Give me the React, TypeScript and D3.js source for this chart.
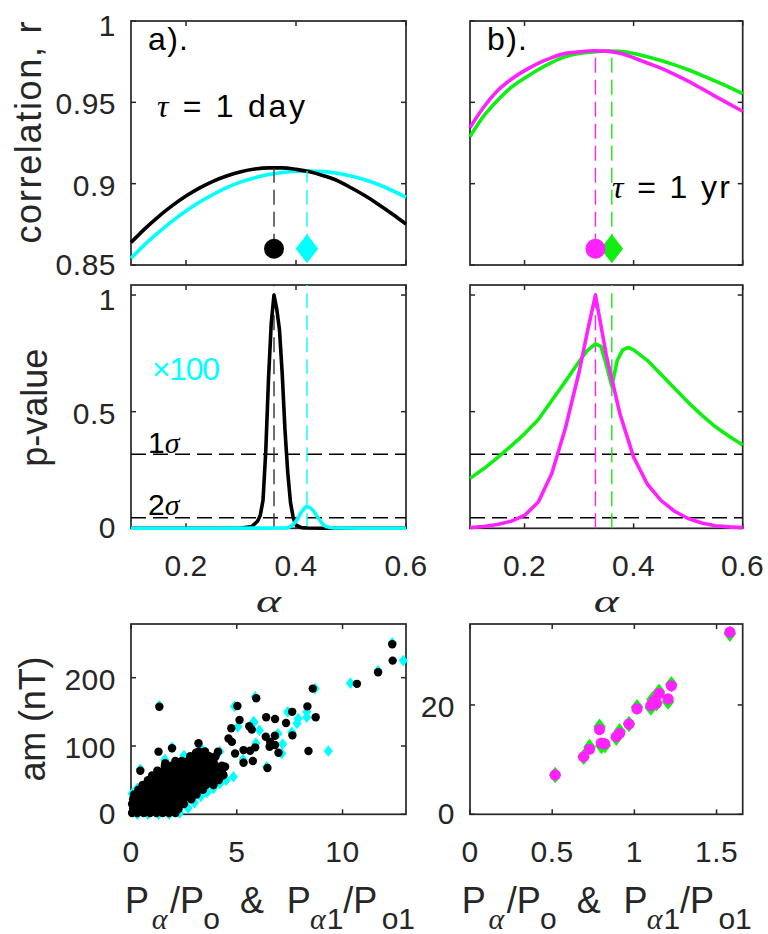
import { useEffect, useRef } from 'react'
import * as d3 from 'd3'

// ---- correlation vs alpha (panels a/b top)
const alphaR = [0.1, 0.125, 0.15, 0.175, 0.2, 0.225, 0.25, 0.275, 0.3, 0.325, 0.35, 0.375, 0.4, 0.425, 0.45, 0.475, 0.5, 0.525, 0.55, 0.575, 0.6]
const rDayBlack = [0.8638, 0.8722, 0.8798, 0.8865, 0.8924, 0.8974, 0.9016, 0.9049, 0.9074, 0.909, 0.9097, 0.9097, 0.9088, 0.9073, 0.9049, 0.9019, 0.8975, 0.8927, 0.8872, 0.8814, 0.8752]
const rDayCyan = [0.8541, 0.8625, 0.87, 0.877, 0.8832, 0.8887, 0.8935, 0.8977, 0.9011, 0.9037, 0.9056, 0.9069, 0.9076, 0.9078, 0.9074, 0.9064, 0.9047, 0.9024, 0.8995, 0.8958, 0.8916]
const rYrMagenta = [0.9345, 0.947, 0.957, 0.964, 0.9695, 0.974, 0.9775, 0.9801, 0.981, 0.9817, 0.9815, 0.9801, 0.9774, 0.9742, 0.971, 0.9672, 0.963, 0.9584, 0.9537, 0.9491, 0.9445]
const rYrGreen = [0.9289, 0.9415, 0.951, 0.959, 0.9648, 0.97, 0.9745, 0.9781, 0.98, 0.981, 0.9816, 0.9814, 0.98, 0.978, 0.9757, 0.973, 0.97, 0.9666, 0.963, 0.9594, 0.9554]
const bestAlphaDay = [0.36, 0.42] // black, cyan
const bestAlphaYr = [0.33, 0.36] // magenta, green
const markerLevel = 0.86

// ---- p-values vs alpha (middle)
const pAlphaBlack = [0.1, 0.3, 0.32, 0.33, 0.335, 0.34, 0.345, 0.35, 0.355, 0.36, 0.365, 0.37, 0.375, 0.38, 0.385, 0.39, 0.395, 0.4, 0.41, 0.42, 0.45, 0.6]
const pBlack = [0, 0.001, 0.008, 0.03, 0.055, 0.12, 0.33, 0.64, 0.88, 1.0, 0.94, 0.85, 0.66, 0.42, 0.24, 0.11, 0.045, 0.014, 0.003, 0.001, 0, 0]
const pAlphaCyan = [0.1, 0.38, 0.39, 0.4, 0.41, 0.42, 0.43, 0.44, 0.45, 0.46, 0.47, 0.6]
const pCyan = [0, 0.001, 0.008, 0.03, 0.07, 0.093, 0.08, 0.045, 0.015, 0.004, 0.001, 0]
const pAlphaMagenta = [0.1, 0.125, 0.15, 0.175, 0.2, 0.225, 0.25, 0.275, 0.3, 0.315, 0.33, 0.35, 0.375, 0.4, 0.425, 0.45, 0.475, 0.5, 0.525, 0.55, 0.575, 0.6]
const pMagenta = [0.003, 0.008, 0.016, 0.03, 0.055, 0.112, 0.235, 0.43, 0.67, 0.84, 1.0, 0.74, 0.49, 0.305, 0.19, 0.12, 0.073, 0.042, 0.023, 0.011, 0.006, 0.003]
const pAlphaGreen = [0.1, 0.125, 0.15, 0.175, 0.2, 0.225, 0.25, 0.275, 0.3, 0.315, 0.33, 0.34, 0.35, 0.36, 0.37, 0.38, 0.39, 0.4, 0.425, 0.45, 0.475, 0.5, 0.525, 0.55, 0.575, 0.6]
const pGreen = [0.214, 0.255, 0.302, 0.352, 0.405, 0.465, 0.548, 0.63, 0.715, 0.762, 0.79, 0.78, 0.7, 0.61, 0.72, 0.765, 0.775, 0.765, 0.72, 0.66, 0.6, 0.54, 0.485, 0.435, 0.395, 0.357]
const sigmaLevels = [0.3173, 0.0455]
const sigmaNames = ['1', '2']

// ---- am vs power ratio (bottom), [ratio, am nT]
const dayOutliers = [
  [12.35, 249], [12.37, 225], [11.68, 208], [10.68, 191], [8.59, 184], [5.92, 170], [8.34, 158], [8.73, 142],
  [7.62, 150], [6.39, 142], [6.81, 139.5], [7.33, 133.7], [5.71, 124], [7.63, 115.6], [6.37, 113.6], [6.8, 115],
  [6.58, 106], [6.81, 101.5], [6.55, 99], [5.87, 98], [5.63, 93], [6.97, 90], [8.39, 92.7], [5.76, 78], [6.45, 67.8],
  [1.34, 157.5], [5.03, 158.5], [5.13, 138], [4.74, 126], [5.59, 129], [4.61, 111], [4.77, 106], [1.94, 96.6],
  [1.3, 91.7], [3.19, 104], [4.11, 91.7], [5.32, 94], [5.32, 75.5], [1.62, 74.7], [0.44, 63.8], [3.07, 90],
  [3.43, 84], [4.37, 57.5], [4.45, 69.7], [4.92, 89]
]
const dayCluster = [
  [0.05, 2], [0.3, 2], [0.6, 2], [0.9, 2], [1.2, 2], [1.5, 2], [1.8, 2], [2.1, 2],
  [0.1, 8], [0.4, 8], [0.7, 8], [1.0, 8], [1.3, 8], [1.6, 8], [1.9, 8], [2.25, 8],
  [0.05, 15], [0.35, 15], [0.65, 15], [0.95, 15], [1.25, 15], [1.55, 15], [1.85, 15], [2.15, 15], [2.5, 15],
  [0.1, 22], [0.4, 22], [0.7, 22], [1.0, 22], [1.3, 22], [1.6, 22], [1.9, 22], [2.2, 22], [2.5, 22], [2.85, 22],
  [0.15, 29], [0.45, 29], [0.75, 29], [1.05, 29], [1.35, 29], [1.65, 29], [1.95, 29], [2.25, 29], [2.55, 29], [2.85, 29], [3.1, 29],
  [0.35, 36], [0.65, 36], [0.95, 36], [1.25, 36], [1.55, 36], [1.85, 36], [2.15, 36], [2.45, 36], [2.75, 36], [3.05, 36], [3.4, 36],
  [0.55, 43], [0.85, 43], [1.15, 43], [1.45, 43], [1.75, 43], [2.05, 43], [2.35, 43], [2.65, 43], [2.95, 43], [3.25, 43], [3.55, 43], [3.9, 43],
  [0.8, 50], [1.1, 50], [1.4, 50], [1.7, 50], [2.0, 50], [2.3, 50], [2.6, 50], [2.9, 50], [3.2, 50], [3.5, 50], [3.8, 50], [4.15, 50],
  [1.0, 57], [1.3, 57], [1.6, 57], [1.9, 57], [2.2, 57], [2.5, 57], [2.8, 57], [3.1, 57], [3.4, 57], [3.7, 57], [4.0, 57], [4.35, 57],
  [1.25, 64], [1.55, 64], [1.85, 64], [2.15, 64], [2.45, 64], [2.75, 64], [3.05, 64], [3.35, 64], [3.65, 64], [3.95, 64], [4.3, 64],
  [1.6, 71], [1.9, 71], [2.2, 71], [2.5, 71], [2.8, 71], [3.1, 71], [3.4, 71], [3.7, 71], [4.0, 71], [4.3, 71],
  [2.1, 78], [2.4, 78], [2.7, 78], [3.0, 78], [3.3, 78], [3.6, 78], [3.9, 78],
  [2.8, 85], [3.1, 85], [3.4, 85], [3.7, 85], [4.0, 85],
  [3.2, 92], [3.5, 92]
]
const dayCyanPts = [
  [12.87, 225], [12.35, 251], [11.68, 210], [10.37, 192], [8.7, 184], [5.87, 172], [8.31, 150], [8.31, 142],
  [7.41, 150], [7.85, 133], [9.33, 92.7], [5.82, 134.7], [6.07, 123], [7.17, 103], [7.13, 89], [6.42, 69.7],
  [4.89, 158], [4.84, 55], [5.79, 135.6], [5.05, 128], [6.95, 118], [7.9, 140], [5.9, 104], [7.6, 120],
  [1.34, 159], [0.44, 66], [1.94, 98], [5.3, 80],
  [0.3, 0], [0.8, 0], [1.3, 0], [1.8, 0], [2.3, 2], [2.7, 9], [3.0, 17], [3.3, 26], [3.6, 32], [3.9, 38],
  [4.2, 45], [4.5, 50], [0.05, 30], [0.3, 38], [1.6, 80], [2.5, 86], [3.3, 97], [4.2, 92]
]
const yrMagentaPts = [
  [0.518, 7.2], [0.691, 10.5], [0.727, 11.9], [0.788, 15.5], [0.799, 13.0], [0.819, 12.9], [0.89, 14.2], [0.91, 14.8],
  [0.967, 16.5], [1.016, 19.3], [1.1, 19.9], [1.11, 20.2], [1.124, 20.9], [1.134, 20.3], [1.15, 22.1], [1.205, 21.1],
  [1.225, 23.5], [1.581, 33.3]
]
const yrGreenPts = [
  [0.518, 7.2], [0.691, 10.5], [0.727, 12.3], [0.788, 16.0], [0.8, 12.5], [0.82, 12.6], [0.89, 14.0], [0.91, 15.2],
  [0.967, 16.5], [1.016, 19.6], [1.1, 19.5], [1.11, 21.0], [1.124, 20.9], [1.134, 20.3], [1.15, 22.4], [1.205, 20.6],
  [1.225, 23.8], [1.581, 33.0]
]

// ---- ticks
const tickR = [0.85, 0.9, 0.95, 1]
const tickP = [0, 0.5, 1]
const tickAlpha = [0.2, 0.4, 0.6]
const tickAmDay = [0, 100, 200]
const tickRatioDay = [0, 5, 10]
const tickAmYr = [0, 20]
const tickRatioYr = [0, 0.5, 1, 1.5]

const INK = '#262626'
const SANS = '"Liberation Sans", Arial, sans-serif'
const SERIF = '"Liberation Serif", "DejaVu Serif", serif'
const CYAN = '#00ffff'
const MAGENTA = '#ff22ff'
const GREEN = '#11ee11'

const COL = [[131, 406], [470, 742.7]]
const ROW = [[265, 21], [528.3, 285], [814.3, 624]]

function frame(g, x, y, xt, yt, showX, showY) {
  const [xa, xb] = x.range()
  const [ya, yb] = y.range()
  const t = 5
  xt.forEach(v => {
    const px = x(v)
    g.append('line').attr('x1', px).attr('x2', px).attr('y1', ya).attr('y2', ya - t).attr('stroke', INK).attr('stroke-width', 1.5)
    g.append('line').attr('x1', px).attr('x2', px).attr('y1', yb).attr('y2', yb + t).attr('stroke', INK).attr('stroke-width', 1.5)
    if (showX) {
      g.append('text').attr('x', px).attr('y', ya + 48).attr('text-anchor', 'middle')
        .attr('font-family', SANS).attr('font-size', 30).attr('letter-spacing', 0.5).attr('fill', INK).text(String(v))
    }
  })
  yt.forEach(v => {
    const py = y(v)
    g.append('line').attr('x1', xa).attr('x2', xa + t).attr('y1', py).attr('y2', py).attr('stroke', INK).attr('stroke-width', 1.5)
    g.append('line').attr('x1', xb).attr('x2', xb - t).attr('y1', py).attr('y2', py).attr('stroke', INK).attr('stroke-width', 1.5)
    if (showY) {
      // labels at the very top/bottom of a panel are nudged inward so stacked panels don't collide
      const nudge = py - yb < 15 ? 3 : ya - py < 2 ? -2 : 0
      g.append('text').attr('x', xa - 15).attr('y', py + 12 + nudge).attr('text-anchor', 'end')
        .attr('font-family', SANS).attr('font-size', 30).attr('letter-spacing', 0.5).attr('fill', INK).text(String(v))
    }
  })
  g.append('rect').attr('x', xa).attr('y', yb).attr('width', xb - xa).attr('height', ya - yb)
    .attr('fill', 'none').attr('stroke', INK).attr('stroke-width', 1.7)
}

function curve(g, x, y, xs, ys, color, smooth) {
  const line = d3.line<number>()
    .x((_, i) => x(xs[i]))
    .y(d => y(d))
    .curve(smooth ? d3.curveMonotoneX : d3.curveLinear)
  g.append('path').attr('d', line(ys)).attr('fill', 'none').attr('stroke', color)
    .attr('stroke-width', 3.6).attr('stroke-linejoin', 'round')
}

function vdash(g, px, y1, y2, color) {
  g.append('line').attr('x1', px).attr('x2', px).attr('y1', y1).attr('y2', y2)
    .attr('stroke', color).attr('stroke-width', 1.4).attr('stroke-dasharray', '15,7')
}

const diamond = (w, h) => `M0,${-h}L${w},0L0,${h}L${-w},0Z`

function yLabel(svg, text, bx, cy, len) {
  svg.append('text').attr('transform', `translate(${bx},${cy}) rotate(-90)`)
    .attr('text-anchor', 'middle').attr('font-family', SANS).attr('font-size', 36).attr('fill', INK)
    .attr('textLength', len).attr('lengthAdjust', 'spacing').text(text)
}

function alphaLabel(svg, cx) {
  svg.append('text').attr('x', cx).attr('y', 612).attr('text-anchor', 'middle')
    .attr('font-family', SERIF).attr('font-style', 'italic').attr('font-size', 32).attr('fill', INK)
    .attr('textLength', 25).attr('lengthAdjust', 'spacingAndGlyphs').text('α')
}

function ratioLabel(svg, x0) {
  const t = svg.append('text').attr('font-family', SANS).attr('fill', INK).attr('font-size', 36)
  const parts = [
    ['P', 0, false, false], ['α', 26.7, true, true], ['/P', 45, false, false], ['o', 78.3, true, false],
    ['&', 115, false, false], ['P', 161.7, false, false], ['α', 185, true, true], ['1', 201.7, true, false],
    ['/P', 218.3, false, false], ['o1', 256.7, true, false]
  ]
  parts.forEach(([s, dx, sub, greek]) => {
    const sp = t.append('tspan').attr('x', x0 + dx).attr('y', sub ? 929 : 913).text(s)
    if (sub) sp.attr('font-size', 30)
    if (greek) sp.attr('font-family', SERIF).attr('font-style', 'italic')
  })
}

export default function App() {
  const ref = useRef(null)

  useEffect(() => {
    if (!ref.current) return
    const svg = d3.select(ref.current)
    svg.selectAll('*').remove()

    const xA = d3.scaleLinear().domain([0.1, 0.6]).range(COL[0])
    const xB = d3.scaleLinear().domain([0.1, 0.6]).range(COL[1])
    const yR = d3.scaleLinear().domain([0.85, 1]).range(ROW[0])
    const yP = d3.scaleLinear().domain([0, 1.043]).range(ROW[1])
    const xD = d3.scaleLinear().domain([0, 13]).range(COL[0])
    const yD = d3.scaleLinear().domain([0, 278.6]).range(ROW[2])
    const xY = d3.scaleLinear().domain([0, 1.659]).range(COL[1])
    const yY = d3.scaleLinear().domain([0, 34.8]).range(ROW[2])

    // ---------- a) top: tau = 1 day
    const gA = svg.append('g')
    frame(gA, xA, yR, tickAlpha, tickR, false, true)
    curve(gA, xA, yR, alphaR, rDayCyan, CYAN, true)
    curve(gA, xA, yR, alphaR, rDayBlack, '#000', true)
    vdash(gA, xA(bestAlphaDay[0]), yR(markerLevel), yR(0.9097), '#333')
    vdash(gA, xA(bestAlphaDay[1]), yR(markerLevel), yR(0.9078), CYAN)
    gA.append('circle').attr('cx', xA(bestAlphaDay[0])).attr('cy', yR(markerLevel)).attr('r', 10).attr('fill', '#000')
    gA.append('path').attr('d', diamond(11.3, 14.5))
      .attr('transform', `translate(${xA(bestAlphaDay[1])},${yR(markerLevel)})`).attr('fill', CYAN)

    // ---------- b) top: tau = 1 yr
    const gB = svg.append('g')
    frame(gB, xB, yR, tickAlpha, tickR, false, false)
    curve(gB, xB, yR, alphaR, rYrGreen, GREEN, true)
    curve(gB, xB, yR, alphaR, rYrMagenta, MAGENTA, true)
    vdash(gB, xB(bestAlphaYr[0]), yR(markerLevel), yR(0.9817), MAGENTA)
    vdash(gB, xB(bestAlphaYr[1]), yR(markerLevel), yR(0.9816), GREEN)
    gB.append('path').attr('d', diamond(11.3, 14.5))
      .attr('transform', `translate(${xB(bestAlphaYr[1])},${yR(markerLevel)})`).attr('fill', GREEN)
    gB.append('circle').attr('cx', xB(bestAlphaYr[0])).attr('cy', yR(markerLevel)).attr('r', 10).attr('fill', MAGENTA)

    // ---------- middle: p-values
    const gC = svg.append('g')
    frame(gC, xA, yP, tickAlpha, tickP, true, true)
    sigmaLevels.forEach(s => {
      gC.append('line').attr('x1', COL[0][0]).attr('x2', COL[0][1]).attr('y1', yP(s)).attr('y2', yP(s))
        .attr('stroke', '#000').attr('stroke-width', 1.4).attr('stroke-dasharray', '15,7')
    })
    vdash(gC, xA(bestAlphaDay[0]), yP(0), yP(1.043), '#333')
    vdash(gC, xA(bestAlphaDay[1]), yP(0), yP(1.043), CYAN)
    curve(gC, xA, yP, pAlphaBlack, pBlack, '#000', false)
    curve(gC, xA, yP, pAlphaCyan, pCyan, CYAN, true)

    const gD = svg.append('g')
    frame(gD, xB, yP, tickAlpha, tickP, true, false)
    sigmaLevels.forEach(s => {
      gD.append('line').attr('x1', COL[1][0]).attr('x2', COL[1][1]).attr('y1', yP(s)).attr('y2', yP(s))
        .attr('stroke', '#000').attr('stroke-width', 1.4).attr('stroke-dasharray', '15,7')
    })
    vdash(gD, xB(bestAlphaYr[0]), yP(0), yP(1.043), MAGENTA)
    vdash(gD, xB(bestAlphaYr[1]), yP(0), yP(1.043), GREEN)
    curve(gD, xB, yP, pAlphaGreen, pGreen, GREEN, false)
    curve(gD, xB, yP, pAlphaMagenta, pMagenta, MAGENTA, false)

    // ---------- bottom scatter
    const gE = svg.append('g')
    frame(gE, xD, yD, tickRatioDay, tickAmDay, true, true)
    dayCyanPts.forEach(([p, a]) => {
      gE.append('path').attr('d', diamond(4.6, 5.8)).attr('transform', `translate(${xD(p)},${yD(a)})`).attr('fill', CYAN)
    })
    dayCluster.concat(dayOutliers).forEach(([p, a]) => {
      gE.append('circle').attr('cx', xD(p)).attr('cy', yD(a)).attr('r', 4.2).attr('fill', '#000')
    })

    const gF = svg.append('g')
    frame(gF, xY, yY, tickRatioYr, tickAmYr, true, true)
    yrGreenPts.forEach(([p, a]) => {
      gF.append('path').attr('d', diamond(6.3, 8.2)).attr('transform', `translate(${xY(p)},${yY(a)})`).attr('fill', GREEN)
    })
    yrMagentaPts.forEach(([p, a]) => {
      gF.append('circle').attr('cx', xY(p)).attr('cy', yY(a)).attr('r', 5.6).attr('fill', MAGENTA)
    })

    // ---------- annotations
    const note = (x, y, s, len, color = INK) =>
      svg.append('text').attr('x', x).attr('y', y).attr('font-family', SANS).attr('font-size', 32)
        .attr('fill', color).attr('textLength', len).attr('lengthAdjust', 'spacing').text(s)
    note(148, 50, 'a).', 40, '#000')
    note(487, 50, 'b).', 40, '#000')
    const tau = (x, y, rest, len) => {
      const t = svg.append('text').attr('x', x).attr('y', y).attr('font-family', SANS).attr('font-size', 32)
        .attr('fill', '#000').attr('textLength', len).attr('lengthAdjust', 'spacing')
      t.append('tspan').attr('font-family', SERIF).attr('font-style', 'italic').text('τ')
      t.append('tspan').text(rest)
    }
    tau(157, 117, ' = 1 day', 148)
    tau(612, 198, ' = 1 yr', 118)
    note(152, 380, '×100', 68, CYAN)
    sigmaNames.forEach((n, i) => {
      const t = svg.append('text').attr('x', 148).attr('y', i === 0 ? 453 : 515)
        .attr('font-family', SANS).attr('font-size', 30).attr('fill', '#000')
      t.append('tspan').text(n)
      t.append('tspan').attr('font-family', SERIF).attr('font-style', 'italic').text('σ')
    })

    yLabel(svg, 'correlation, r', 41, 132.6, 222)
    yLabel(svg, 'p-value', 47, 407.7, 118)
    yLabel(svg, 'am (nT)', 45, 719, 125)
    alphaLabel(svg, (COL[0][0] + COL[0][1]) / 2)
    alphaLabel(svg, (COL[1][0] + COL[1][1]) / 2)
    ratioLabel(svg, 125)
    ratioLabel(svg, 461.7)
  }, [])

  return (
    <svg ref={ref} width={768} height={934}
      style={{ position: 'absolute', left: 0, top: 0, background: '#fff' }} />
  )
}
